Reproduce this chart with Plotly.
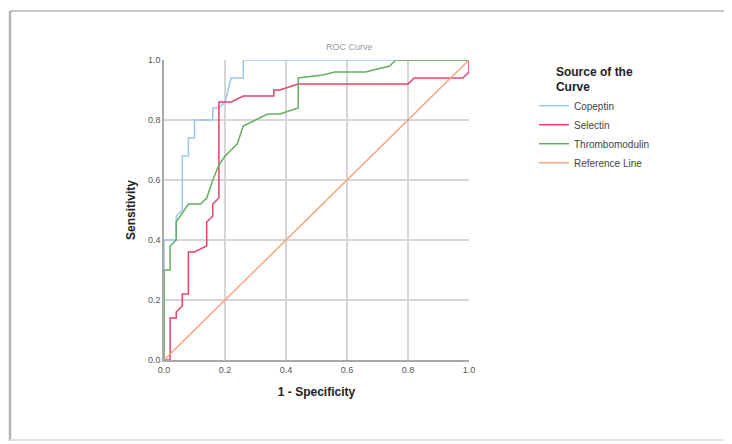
import plotly.graph_objects as go

# ---- data ----
copeptin_fpr = [0.0, 0.0, 0.04, 0.04, 0.06, 0.06, 0.08, 0.08, 0.10, 0.10, 0.16, 0.16, 0.18, 0.20, 0.22, 0.26, 0.26, 1.0]
copeptin_tpr = [0.0, 0.40, 0.40, 0.48, 0.50, 0.68, 0.68, 0.74, 0.74, 0.80, 0.80, 0.84, 0.84, 0.86, 0.94, 0.94, 1.0, 1.0]

selectin_fpr = [0.0, 0.02, 0.02, 0.04, 0.04, 0.06, 0.06, 0.08, 0.08, 0.10, 0.14, 0.14, 0.16, 0.16, 0.18, 0.18, 0.22, 0.26,
                0.36, 0.36, 0.38, 0.44, 0.80, 0.82, 0.98, 1.0, 1.0]
selectin_tpr = [0.0, 0.0, 0.14, 0.14, 0.16, 0.18, 0.22, 0.22, 0.36, 0.36, 0.38, 0.46, 0.48, 0.52, 0.54, 0.86, 0.86, 0.88,
                0.88, 0.90, 0.90, 0.92, 0.92, 0.94, 0.94, 0.96, 1.0]

thrombo_fpr = [0.0, 0.0, 0.02, 0.02, 0.04, 0.04, 0.08, 0.12, 0.14, 0.16, 0.18, 0.20, 0.24, 0.26, 0.30, 0.34, 0.38, 0.44,
               0.44, 0.52, 0.56, 0.66, 0.74, 0.76, 1.0]
thrombo_tpr = [0.0, 0.30, 0.30, 0.38, 0.40, 0.46, 0.52, 0.52, 0.54, 0.60, 0.65, 0.68, 0.72, 0.78, 0.80, 0.82, 0.82, 0.84,
               0.94, 0.95, 0.96, 0.96, 0.98, 1.0, 1.0]

ref_fpr = [0.0, 1.0]
ref_tpr = [0.0, 1.0]

tick_vals = [0.0, 0.2, 0.4, 0.6, 0.8, 1.0]

FONT = "Liberation Sans, Arial, sans-serif"

fig = go.Figure()
series = [
    ("Copeptin", copeptin_fpr, copeptin_tpr, "#9fc5ee"),
    ("Selectin", selectin_fpr, selectin_tpr, "#e6436b"),
    ("Thrombomodulin", thrombo_fpr, thrombo_tpr, "#62b062"),
    ("Reference Line", ref_fpr, ref_tpr, "#f8a47c"),
]
for name, xs, ys, col in series:
    fig.add_trace(go.Scatter(x=xs, y=ys, mode="lines", name=name,
                             line=dict(color=col, width=1.5), hoverinfo="skip"))

axis_common = dict(range=[0, 1], tickvals=tick_vals, tickformat=".1f", ticks="",
                   showgrid=True, gridcolor="#d6d6d6", gridwidth=1.5,
                   showline=True, linecolor="#a8a8a8", linewidth=1.5,
                   zeroline=False, tickfont=dict(family=FONT, size=9, color="#555555"),
                   fixedrange=True)

# page body has an 8px margin, so the figure is made 8px smaller on each used side
fig.update_layout(
    width=724, height=436,
    margin=dict(l=156, r=263, t=52, b=84),
    paper_bgcolor="white", plot_bgcolor="white",
    font=dict(family=FONT, color="#222222"),
    xaxis=dict(axis_common, title=dict(text="<b>1 - Specificity</b>", font=dict(size=12, color="#222222"), standoff=14)),
    yaxis=dict(axis_common, title=dict(text="<b>Sensitivity</b>", font=dict(size=12, color="#222222"), standoff=10)),
    legend=dict(x=1.213, y=1.0, xanchor="left", yanchor="top",
                title=dict(text="<b>Source of the<br>Curve</b>", side="top center",
                           font=dict(family=FONT, size=12, color="#222222")),
                font=dict(family=FONT, size=10, color="#444444"),
                itemwidth=30, bgcolor="rgba(0,0,0,0)", tracegroupgap=0),
    showlegend=True,
)

# frame around the chart (top, left and bottom edges, as in the screenshot)
def px_x(p):
    return (p - 164) / 305

def px_y(p):
    return 1 - (p - 60) / 300

frame = dict(xref="paper", yref="paper", layer="below")
fig.add_shape(type="line", x0=px_x(10), x1=px_x(760), y0=px_y(11), y1=px_y(11),
              line=dict(color="#c8c8c8", width=2), **frame)
fig.add_shape(type="line", x0=px_x(10), x1=px_x(10), y0=px_y(11), y1=px_y(441),
              line=dict(color="#b4b4b4", width=2.5), **frame)
fig.add_shape(type="line", x0=px_x(10), x1=px_x(760), y0=px_y(440), y1=px_y(440),
              line=dict(color="#e2e2e2", width=2), **frame)

# partially visible chart title
fig.add_annotation(text="ROC Curve", xref="paper", yref="paper",
                   x=px_x(375), y=px_y(47), showarrow=False,
                   font=dict(family=FONT, size=9, color="#9a9a9a"), yanchor="middle")

fig.write_html("out.html")
